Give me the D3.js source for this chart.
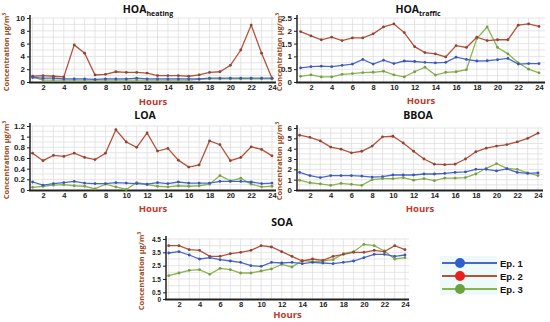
<!DOCTYPE html>
<html>
<head>
<meta charset="utf-8">
<script src="https://cdn.jsdelivr.net/npm/d3@7"></script>
<style>
  body { margin: 0; background: #fff; }
  svg { font-family: "Open Sans", "Liberation Sans", sans-serif; }
  .grid line { stroke: #dedede; stroke-width: 0.8; }
  .tick text { font-weight: bold; fill: #222; }
</style>
</head>
<body>
<svg id="chart" width="550" height="322"></svg>
<script>
/* hours 1..24 */
var hours = d3.range(1, 25);
var hourTicks = [2, 4, 6, 8, 10, 12, 14, 16, 18, 20, 22, 24];
var episodes = ['Ep. 1', 'Ep. 2', 'Ep. 3'];

/* HOA heating */
var hoaHeatEp1 = [0.7, 0.6, 0.6, 0.5, 0.5, 0.5, 0.4, 0.5, 0.5, 0.5, 0.6, 0.5, 0.5, 0.5, 0.5, 0.5, 0.5, 0.6, 0.6, 0.6, 0.6, 0.6, 0.6, 0.6];
var hoaHeatEp2 = [0.9, 1.0, 0.9, 0.8, 5.8, 4.5, 1.1, 1.2, 1.6, 1.5, 1.5, 1.4, 1.0, 1.0, 1.0, 0.9, 1.1, 1.5, 1.6, 2.6, 5.0, 8.9, 4.5, 0.6];
var hoaHeatEp3 = [0.8, 0.3, 0.3, 0.3, 0.3, 0.3, 0.3, 0.3, 0.3, 0.3, 0.3, 0.3, 0.3, 0.3, 0.3, 0.3, 0.4, 0.5, 0.5, 0.5, 0.5, 0.5, 0.5, 0.5];

/* HOA traffic */
var hoaTrafEp1 = [0.55, 0.6, 0.62, 0.6, 0.65, 0.7, 0.88, 0.7, 0.85, 0.72, 0.82, 0.8, 0.77, 0.75, 0.77, 0.97, 0.88, 0.82, 0.83, 0.87, 0.92, 0.7, 0.72, 0.72];
var hoaTrafEp2 = [1.97, 1.8, 1.65, 1.75, 1.62, 1.72, 1.72, 1.88, 2.15, 2.27, 1.93, 1.38, 1.15, 1.1, 0.98, 1.42, 1.35, 1.75, 1.62, 1.65, 1.65, 2.22, 2.27, 2.17];
var hoaTrafEp3 = [0.22, 0.28, 0.2, 0.2, 0.3, 0.33, 0.37, 0.38, 0.42, 0.28, 0.2, 0.4, 0.58, 0.27, 0.38, 0.4, 0.48, 1.7, 2.15, 1.35, 1.1, 0.75, 0.5, 0.36];

/* LOA */
var loaEp1 = [0.15, 0.09, 0.12, 0.14, 0.16, 0.13, 0.12, 0.12, 0.14, 0.13, 0.12, 0.11, 0.14, 0.12, 0.15, 0.13, 0.13, 0.13, 0.16, 0.16, 0.16, 0.15, 0.12, 0.13];
var loaEp2 = [0.69, 0.55, 0.65, 0.63, 0.69, 0.61, 0.57, 0.69, 1.13, 0.9, 0.8, 1.07, 0.73, 0.78, 0.56, 0.43, 0.47, 0.92, 0.85, 0.55, 0.61, 0.81, 0.76, 0.64];
var loaEp3 = [0.05, 0.07, 0.09, 0.1, 0.08, 0.07, 0.02, 0.11, 0.06, 0.01, 0.14, 0.1, 0.07, 0.06, 0.08, 0.07, 0.08, 0.11, 0.27, 0.17, 0.22, 0.11, 0.06, 0.07];

/* BBOA */
var bboaEp1 = [1.7, 1.4, 1.2, 1.4, 1.4, 1.4, 1.35, 1.25, 1.3, 1.45, 1.45, 1.45, 1.55, 1.55, 1.6, 1.7, 1.75, 2.0, 2.0, 1.85, 2.05, 1.7, 1.6, 1.65];
var bboaEp2 = [5.3, 5.1, 4.75, 4.15, 3.95, 3.6, 3.75, 4.25, 5.15, 5.2, 4.55, 3.75, 3.0, 2.5, 2.45, 2.5, 3.0, 3.7, 4.05, 4.25, 4.4, 4.65, 5.0, 5.5];
var bboaEp3 = [0.95, 0.7, 0.6, 0.45, 0.65, 0.55, 0.45, 1.0, 1.1, 1.1, 1.2, 0.95, 1.1, 0.9, 1.15, 1.15, 1.2, 1.55, 2.1, 2.55, 2.1, 2.0, 1.65, 1.4];

/* SOA */
var soaEp1 = [3.45, 3.55, 3.3, 3.0, 3.1, 2.95, 2.85, 2.75, 2.5, 2.45, 2.75, 2.7, 2.75, 2.65, 2.75, 2.7, 2.65, 2.75, 2.85, 3.1, 3.35, 3.35, 3.2, 3.3];
var soaEp2 = [4.0, 4.0, 3.7, 3.65, 3.2, 3.2, 3.4, 3.5, 3.65, 4.0, 3.9, 3.55, 3.2, 2.85, 3.0, 2.9, 3.2, 3.35, 3.5, 3.5, 3.65, 3.55, 4.0, 3.7];
var soaEp3 = [1.75, 1.95, 2.15, 2.2, 1.85, 2.3, 2.2, 1.95, 1.95, 2.1, 2.25, 2.6, 2.4, 2.9, 2.8, 2.85, 2.95, 3.4, 3.55, 4.1, 4.0, 3.6, 3.0, 3.1];

var Chart = {
    /*цвета линий и маркеров*/
    lineColors: ['#4a68cc', '#b4533c', '#8ab54c'],
    dotColors: ['#3b55b0', '#8f4433', '#7a9c45'],
    legendColors: ['#2e5fcc', '#e8211b', '#69a23f'],

    panels: [
        { title: 'HOA', sub: 'heating', series: [hoaHeatEp1, hoaHeatEp2, hoaHeatEp3], yMax: 10, yTicks: [0, 2, 4, 6, 8, 10], yMinor: 1, yFont: 8,
          axisX: 30, x1: 32.6, x24: 272, right: 276, yTop: 18, yBot: 82, titleX: 148, titleY: 13, hoursY: 105, labelX: 9 },
        { title: 'HOA', sub: 'traffic', series: [hoaTrafEp1, hoaTrafEp2, hoaTrafEp3], yMax: 2.5, yTicks: [0, 0.5, 1, 1.5, 2, 2.5], yMinor: 0.25, yFont: 8,
          axisX: 297, x1: 300.6, x24: 539, right: 545, yTop: 18, yBot: 82, titleX: 418, titleY: 13, hoursY: 104, labelX: 282 },
        { title: 'LOA', sub: '', series: [loaEp1, loaEp2, loaEp3], yMax: 1.2, yTicks: [0, 0.2, 0.4, 0.6, 0.8, 1, 1.2], yMinor: 0.1, yFont: 8,
          axisX: 30, x1: 32.6, x24: 272, right: 276, yTop: 126, yBot: 190, titleX: 145, titleY: 119, hoursY: 212, labelX: 9 },
        { title: 'BBOA', sub: '', series: [bboaEp1, bboaEp2, bboaEp3], yMax: 6, yTicks: [0, 1, 2, 3, 4, 5, 6], yMinor: 0.5, yFont: 8,
          axisX: 297, x1: 299.6, x24: 538, right: 543, yTop: 128, yBot: 190, titleX: 418, titleY: 119, hoursY: 212, labelX: 282 },
        { title: 'SOA', sub: '', series: [soaEp1, soaEp2, soaEp3], yMax: 4.5, yTicks: [0, 0.5, 1.5, 2.5, 3.5, 4.5], yMinor: 0.5, yFont: 6.5,
          axisX: 166, x1: 168.7, x24: 405, right: 409, yTop: 239, yBot: 299, titleX: 282, titleY: 226, hoursY: 318, labelX: 144 }
    ],

    init: function() {
        this.svg = d3.select('#chart');
        for (let i = 0; i < this.panels.length; i++) this.drawPanel(this.panels[i]);
        this.drawLegend();
    },

    /*одна панель графика*/
    drawPanel: function(p) {
        let svg = this.svg;
        let x = d3.scaleLinear().domain([1, 24]).range([p.x1, p.x24]);
        let y = d3.scaleLinear().domain([0, p.yMax]).range([p.yBot, p.yTop]);
        let g = svg.append('g');

        /*сетка*/
        let grid = g.append('g').attr('class', 'grid');
        grid.selectAll('line.v').data(hours).enter().append('line')
            .attr('x1', d => x(d)).attr('x2', d => x(d))
            .attr('y1', y(p.yMax)).attr('y2', p.yBot);
        grid.selectAll('line.h').data(d3.range(p.yMinor, p.yMax + 0.001, p.yMinor)).enter().append('line')
            .attr('x1', p.axisX).attr('x2', p.right)
            .attr('y1', d => y(d)).attr('y2', d => y(d));

        /*оси*/
        g.append('g')
            .attr('transform', 'translate(0,' + p.yBot + ')')
            .call(d3.axisBottom(x).tickValues(hourTicks).tickSize(0).tickPadding(3))
            .call(a => a.select('.domain').remove())
            .call(a => a.selectAll('.tick text').attr('font-size', null).style('font-size', '7.5px'));
        g.append('g')
            .attr('transform', 'translate(' + p.axisX + ',0)')
            .call(d3.axisLeft(y).tickValues(p.yTicks).tickSize(3).tickPadding(2).tickFormat(d3.format('')))
            .call(a => a.select('.domain').remove())
            .call(a => a.selectAll('.tick line').attr('stroke', '#222'))
            .call(a => a.selectAll('.tick text').attr('font-size', null).style('font-size', p.yFont + 'px'));
        g.append('line').attr('x1', p.axisX).attr('x2', p.axisX)
            .attr('y1', p.yTop - 3).attr('y2', p.yBot + 1)
            .attr('stroke', '#222').attr('stroke-width', 1.5);
        g.append('line').attr('x1', p.axisX - 1).attr('x2', p.right)
            .attr('y1', p.yBot + 0.5).attr('y2', p.yBot + 0.5)
            .attr('stroke', '#222').attr('stroke-width', 2);

        /*линии серий*/
        let line = d3.line().x((d, i) => x(hours[i])).y(d => y(d));
        for (let k = p.series.length - 1; k >= 0; k--) {
            let s = p.series[k];
            g.append('path').attr('d', line(s))
                .attr('fill', 'none').attr('stroke', this.lineColors[k]).attr('stroke-width', 1.3);
            g.selectAll('circle.s' + k).data(s).enter().append('circle')
                .attr('cx', (d, i) => x(hours[i])).attr('cy', d => y(d)).attr('r', 1.4)
                .attr('fill', this.dotColors[k]);
        }

        /*заголовок*/
        let t = g.append('text').attr('x', p.titleX).attr('y', p.titleY)
            .attr('text-anchor', 'middle').attr('font-size', 10.5).attr('font-weight', 'bold').attr('fill', '#111');
        t.append('tspan').text(p.title);
        if (p.sub) t.append('tspan').attr('font-size', 7).attr('dy', 3).text(p.sub);

        g.append('text').attr('x', (p.axisX + p.right) / 2).attr('y', p.hoursY)
            .attr('text-anchor', 'middle').attr('font-size', 9.5).attr('font-weight', 'bold')
            .attr('fill', '#c0392b').text('Hours');

        let cy = (p.yTop + p.yBot) / 2 + 2;
        let lab = g.append('text').attr('transform', 'translate(' + p.labelX + ',' + cy + ') rotate(-90)')
            .attr('text-anchor', 'middle').attr('font-size', 7.5).attr('font-weight', 'bold').attr('fill', '#9a4a22');
        lab.append('tspan').text('Concentration μg/m');
        lab.append('tspan').attr('font-size', 5).attr('dy', -3).text('3');
    },

    /*легенда*/
    drawLegend: function() {
        let g = this.svg.append('g');
        g.append('rect').attr('x', 440).attr('y', 256).attr('width', 57).attr('height', 39).attr('fill', '#eefafa');
        let ys = [263, 276, 289];
        for (let i = 0; i < episodes.length; i++) {
            g.append('line').attr('x1', 442).attr('x2', 497).attr('y1', ys[i]).attr('y2', ys[i])
                .attr('stroke', this.lineColors[i]).attr('stroke-width', 2.2);
            g.append('circle').attr('cx', 460).attr('cy', ys[i]).attr('r', 5).attr('fill', this.legendColors[i]);
            g.append('text').attr('x', 500).attr('y', ys[i] + 3.5).attr('font-size', 9.5).attr('font-weight', 'bold')
                .attr('font-family', 'Liberation Sans, Arial, sans-serif').attr('fill', '#111').text(episodes[i]);
        }
    }
};

Chart.init();
</script>
</body>
</html>
